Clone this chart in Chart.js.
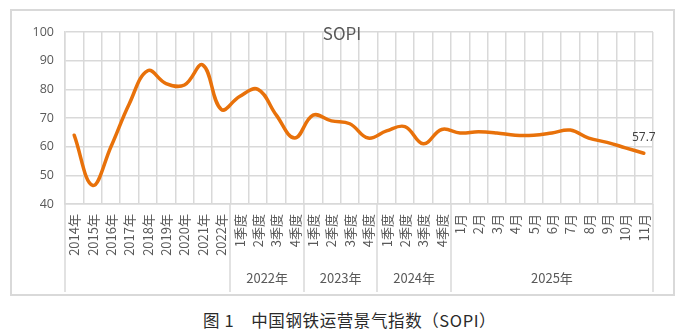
<!DOCTYPE html>
<html>
<head>
<meta charset="utf-8">
<script src="https://cdn.jsdelivr.net/npm/chart.js@4/dist/chart.umd.min.js"></script>
<style>
  html, body { margin: 0; padding: 0; background: #ffffff; }
  body { width: 684px; height: 330px; position: relative; overflow: hidden; }
  #frame { position: absolute; left: 10px; top: 9px; width: 661px; height: 283px; border: 2px solid #d9d9d9; }
  #c { position: absolute; left: 0; top: 0; }
  #caption { position: absolute; left: 203px; top: 309px; white-space: nowrap;
    font-family: "Noto Sans CJK SC", sans-serif; font-size: 16.5px; line-height: 22px;
    letter-spacing: 0.6px; color: #2a2a2a; }
</style>
</head>
<body>
<div id="frame"></div>
<canvas id="c" width="684" height="300"></canvas>
<div id="caption">图 1　中国钢铁运营景气指数（SOPI）</div>
<script>
// Period labels along the x axis
const categories = [
  '2014年', '2015年', '2016年', '2017年', '2018年', '2019年', '2020年', '2021年', '2022年',
  '1季度', '2季度', '3季度', '4季度',
  '1季度', '2季度', '3季度', '4季度',
  '1季度', '2季度', '3季度', '4季度',
  '1月', '2月', '3月', '4月', '5月', '6月', '7月', '8月', '9月', '10月', '11月'
];

// SOPI index for each period
const sopiValues = [
  64, 46.5, 60, 75, 86.5, 82, 81.5, 88.5, 73,
  77.5, 80, 71, 63,
  71, 69, 68, 63,
  65.5, 67, 61, 66,
  64.8, 65.2, 64.8, 64, 64, 64.8, 65.8, 63, 61.5, 59.6, 57.7
];

// Year groups shown on the second row of the x axis (first and last category index)
const groupNames = ['2022年', '2023年', '2024年', '2025年'];
const groupStart = [9, 13, 17, 21];
const groupEnd = [12, 16, 20, 31];

const yTicks = [40, 50, 60, 70, 80, 90, 100];

const GRID = '#d9d9d9';
const TEXT = '#595959';
const LINE = '#e8710a';

// Title, last-value label and the grouped year row under the axis
const decorations = {
  id: 'decorations',
  afterDraw(chart) {
    const ctx = chart.ctx;
    const x = chart.scales.x;
    const area = chart.chartArea;
    const bottom = 292;
    ctx.save();

    // separators between year groups, plus both outer edges
    const edges = [-0.5, 31.5].concat(groupStart.map(s => s - 0.5));
    ctx.strokeStyle = GRID;
    ctx.lineWidth = 1.5;
    edges.forEach(e => {
      const px = Math.round(x.getPixelForValue(e));
      ctx.beginPath();
      ctx.moveTo(px, area.bottom);
      ctx.lineTo(px, bottom);
      ctx.stroke();
    });

    // group names
    ctx.fillStyle = TEXT;
    ctx.font = '13px "Noto Sans CJK SC", sans-serif';
    ctx.textAlign = 'center';
    ctx.textBaseline = 'middle';
    groupNames.forEach((name, i) => {
      const cx = (x.getPixelForValue(groupStart[i] - 0.5) + x.getPixelForValue(groupEnd[i] + 0.5)) / 2;
      ctx.fillText(name, cx, 278);
    });

    // chart title
    ctx.font = '17px "Noto Sans CJK SC", sans-serif';
    ctx.fillStyle = TEXT;
    ctx.fillText('SOPI', 342, 34);

    // value label on the latest point
    const meta = chart.getDatasetMeta(0);
    const last = meta.data[meta.data.length - 1];
    ctx.font = '12px "Open Sans", sans-serif';
    ctx.fillStyle = '#404040';
    ctx.fillText(String(sopiValues[sopiValues.length - 1]), last.x, last.y - 16);

    ctx.restore();
  }
};

new Chart(document.getElementById('c'), {
  type: 'line',
  data: {
    labels: categories,
    datasets: [{
      data: sopiValues,
      borderColor: LINE,
      borderWidth: 3.5,
      pointRadius: 0,
      tension: 0.4,
      fill: false,
      borderCapStyle: 'round'
    }]
  },
  options: {
    responsive: false,
    animation: false,
    layout: { padding: { left: 10, right: 31, top: 32, bottom: 8 } },
    plugins: {
      legend: { display: false },
      title: { display: false },
      tooltip: { enabled: false }
    },
    scales: {
      x: {
        type: 'category',
        offset: true,
        grid: { offset: true, color: GRID, lineWidth: 1.5, drawTicks: false },
        border: { color: GRID, width: 1.5 },
        ticks: {
          autoSkip: false,
          minRotation: 90,
          maxRotation: 90,
          padding: 10,
          color: TEXT,
          font: { family: '"Noto Sans CJK SC", sans-serif', size: 13 }
        },
        afterFit(scale) { scale.height = 88; }
      },
      y: {
        min: 40,
        max: 100,
        afterBuildTicks(scale) { scale.ticks = yTicks.map(v => ({ value: v })); },
        grid: { color: GRID, lineWidth: 1.5, drawTicks: false },
        border: { color: GRID, width: 1.5 },
        ticks: {
          padding: 11,
          color: TEXT,
          font: { family: '"Open Sans", sans-serif', size: 12.5 }
        },
        afterFit(scale) { scale.width = 55; }
      }
    }
  },
  plugins: [decorations]
});
</script>
</body>
</html>
